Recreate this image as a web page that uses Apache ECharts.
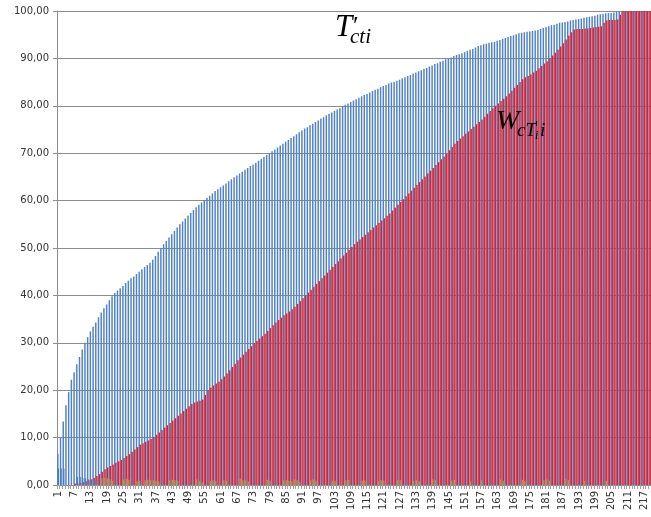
<!DOCTYPE html>
<html>
<head>
<meta charset="utf-8">
<script src="https://cdn.jsdelivr.net/npm/echarts@6/dist/echarts.min.js"></script>
<style>
html,body{margin:0;padding:0;background:#fff;}
#chart{width:651px;height:517px;}
</style>
</head>
<body>
<div id="chart"></div>
<script>
// ---- DATA ----
const categories = [];
for (let i = 1; i <= 219; i++) categories.push(String(i));

const yTicks = [0, 10, 20, 30, 40, 50, 60, 70, 80, 90, 100];

// T'cti (blue)
const tcti = [
  6.6, 10.0, 13.4, 16.8, 19.6, 22.2, 23.8, 25.5, 27.0, 28.6,
  30.0, 31.2, 32.4, 33.4, 34.3, 35.4, 36.4, 37.3, 38.1, 39.0,
  39.8, 40.5, 41.0, 41.5, 42.0, 42.6, 43.1, 43.6, 44.0, 44.5,
  45.0, 45.5, 46.0, 46.4, 46.9, 47.5, 48.3, 49.2, 50.0, 50.8,
  51.5, 52.2, 52.9, 53.6, 54.3, 55.0, 55.6, 56.2, 56.8, 57.4,
  58.0, 58.6, 59.1, 59.6, 60.1, 60.6, 61.0, 61.5, 62.0, 62.4,
  62.8, 63.2, 63.6, 64.1, 64.5, 64.9, 65.3, 65.7, 66.1, 66.5,
  66.9, 67.3, 67.6, 68.0, 68.4, 68.8, 69.2, 69.6, 70.0, 70.4,
  70.8, 71.2, 71.6, 72.0, 72.4, 72.8, 73.2, 73.6, 74.0, 74.4,
  74.8, 75.2, 75.5, 75.9, 76.2, 76.6, 76.9, 77.3, 77.6, 78.0,
  78.3, 78.6, 78.9, 79.2, 79.5, 79.8, 80.2, 80.5, 80.8, 81.1,
  81.4, 81.7, 82.0, 82.3, 82.5, 82.8, 83.1, 83.4, 83.6, 83.9,
  84.2, 84.4, 84.7, 84.9, 85.1, 85.3, 85.5, 85.8, 86.0, 86.3,
  86.5, 86.8, 87.0, 87.3, 87.5, 87.8, 88.0, 88.3, 88.5, 88.8,
  89.0, 89.3, 89.5, 89.8, 90.0, 90.2, 90.5, 90.7, 90.9, 91.1,
  91.3, 91.6, 91.8, 92.0, 92.3, 92.6, 92.8, 93.0, 93.1, 93.3,
  93.4, 93.5, 93.7, 93.9, 94.1, 94.3, 94.5, 94.7, 94.9, 95.1,
  95.3, 95.4, 95.5, 95.6, 95.7, 95.8, 95.9, 96.0, 96.2, 96.4,
  96.6, 96.8, 97.0, 97.1, 97.3, 97.5, 97.6, 97.7, 97.8, 98.0,
  98.1, 98.2, 98.3, 98.4, 98.6, 98.7, 98.8, 98.9, 99.0, 99.2,
  99.3, 99.4, 99.5, 99.6, 99.6, 99.7, 99.8, 99.9, 100, 100,
  100, 100, 100, 100, 100, 100, 100, 100, 100
];

// WcT'i (red)
const wcti = [
  0, 0, 0, 0, 0, 0, 0.3, 0.3, 0.4, 0.6,
  0.8, 1.0, 1.2, 1.5, 1.9, 2.3, 2.8, 3.3, 3.7, 4.0,
  4.3, 4.7, 5.0, 5.3, 5.7, 6.1, 6.5, 7.0, 7.5, 8.0,
  8.5, 8.8, 9.1, 9.4, 9.7, 10.1, 10.6, 11.1, 11.6, 12.1,
  12.6, 13.1, 13.6, 14.1, 14.6, 15.1, 15.6, 16.1, 16.6, 17.1,
  17.4, 17.6, 17.8, 18.0, 19.0, 20.0, 20.5, 21.0, 21.4, 21.8,
  22.3, 22.9, 23.5, 24.2, 24.9, 25.6, 26.3, 26.9, 27.5, 28.1,
  28.7, 29.3, 29.9, 30.4, 30.9, 31.4, 31.9, 32.5, 33.1, 33.7,
  34.3, 34.8, 35.3, 35.8, 36.2, 36.6, 37.1, 37.6, 38.2, 38.8,
  39.4, 40.0, 40.6, 41.2, 41.8, 42.4, 43.0, 43.6, 44.2, 44.8,
  45.4, 46.0, 46.6, 47.2, 47.8, 48.4, 49.0, 49.6, 50.2, 50.8,
  51.3, 51.8, 52.3, 52.8, 53.3, 53.8, 54.3, 54.8, 55.3, 55.8,
  56.3, 56.8, 57.3, 57.9, 58.5, 59.1, 59.7, 60.3, 60.9, 61.5,
  62.1, 62.7, 63.3, 63.9, 64.5, 65.1, 65.7, 66.3, 66.9, 67.5,
  68.1, 68.7, 69.3, 69.9, 70.6, 71.3, 72.0, 72.6, 73.1, 73.6,
  74.1, 74.6, 75.1, 75.6, 76.1, 76.6, 77.1, 77.7, 78.3, 78.9,
  79.5, 80.0, 80.5, 81.0, 81.5, 82.0, 82.6, 83.2, 83.8, 84.4,
  85.0, 85.6, 86.0, 86.3, 86.6, 87.0, 87.4, 87.9, 88.4, 88.9,
  89.4, 90.0, 90.6, 91.2, 91.8, 92.5, 93.2, 94.0, 94.8, 95.5,
  96.1, 96.2, 96.2, 96.2, 96.3, 96.3, 96.4, 96.5, 96.6, 96.7,
  96.8, 97.5, 98.0, 98.1, 98.1, 98.1, 98.2, 99.2, 100, 100,
  100, 100, 100, 100, 100, 100, 100, 100, 100
];

// small series near zero
const small = [
  3.5, 3.5, 3.5, 0, 0, 0, 0, 1.7, 1.7, 1.5,
  1.4, 1.2, 1.0, 0.9, 0.8, 0, 1.4, 1.5, 1.4, 1.2,
  0.9, 0, 0, 0, 1.2, 1.3, 1.1, 0, 0, 0.8,
  0.9, 0, 1.0, 1.1, 1.0, 1.0, 0.9, 0.8, 0, 0,
  0, 1.0, 1.1, 1.0, 0.9, 0, 0, 0, 0, 0,
  0, 1.2, 0.8, 0.6, 0, 0, 0.9, 1.0, 0.8, 0,
  0, 1.0, 0.9, 0, 0, 0, 0, 1.3, 1.0, 1.0,
  0.8, 0, 0, 0, 0, 0, 0, 1.1, 0.9, 0,
  0, 0, 0, 1.0, 1.0, 0.9, 0.8, 1.2, 1.0, 0.7,
  0, 0, 0, 1.0, 1.2, 0.9, 0, 0, 0, 0,
  0, 0.8, 0.9, 0, 0, 0, 1.0, 1.1, 0, 0,
  0, 0, 0.9, 1.0, 0, 0, 0, 0, 0.8, 1.0,
  0.9, 0, 0, 0, 0, 1.1, 1.0, 0, 0, 0,
  0, 0.9, 1.0, 0.8, 0, 0, 0, 0, 1.2, 1.0,
  0, 0, 0, 0, 0, 0.9, 1.1, 0, 0, 0,
  0, 0, 0.8, 0, 0, 0, 1.0, 0, 0, 0,
  0, 0, 0, 1.2, 0.9, 0, 0, 0, 0, 0,
  0, 1.1, 0.9, 0, 0, 0, 0, 0, 0, 1.0,
  1.2, 0.9, 0, 0, 0, 0, 0, 1.3, 1.0, 0,
  0, 0, 0, 0, 0.8, 0, 0, 0, 0, 0,
  0, 0, 0.9, 0, 0, 0, 0, 0, 0, 0,
  0, 0, 0, 0, 0, 0, 0, 0, 0
];

// ---- CHART ----
const chart = echarts.init(document.getElementById('chart'), null, {renderer: 'canvas'});
const fmt = v => v.toFixed(2).replace('.', ',');

const smallData = small.map((v, i) => ({
  value: v,
  itemStyle: {color: i < 16 ? '#4a7ebb' : '#b39448'}
}));

chart.setOption({
  animation: false,
  backgroundColor: '#ffffff',
  grid: {left: 57, right: 0, top: 11, bottom: 32, containLabel: false},
  xAxis: [{
    type: 'category',
    data: categories,
    boundaryGap: true,
    axisLine: {show: true, lineStyle: {color: '#8c8c8c', width: 1}},
    axisTick: {show: true, interval: 0, length: 4, lineStyle: {color: '#a0a0a0'}},
    axisLabel: {
      interval: 5, rotate: 90, margin: 6,
      fontFamily: 'DejaVu Sans', fontSize: 10, color: '#333'
    },
    splitLine: {show: false}
  }, {
    type: 'category',
    data: categories,
    show: false,
    position: 'bottom'
  }],
  yAxis: {
    type: 'value',
    min: 0, max: 100, interval: 10,
    axisLine: {show: true, lineStyle: {color: '#8c8c8c', width: 1}},
    axisTick: {show: true, length: 4, lineStyle: {color: '#8c8c8c'}},
    axisLabel: {
      formatter: fmt, margin: 8,
      fontFamily: 'DejaVu Sans', fontSize: 10, color: '#333'
    },
    splitLine: {show: true, lineStyle: {color: '#8c8c8c', width: 1}}
  },
  series: [
    {
      name: "T'cti", type: 'bar', xAxisIndex: 0,
      data: tcti,
      barCategoryGap: '6%', barGap: '-25%',
      itemStyle: {color: '#4f81c4'}
    },
    {
      name: "WcT'i", type: 'bar', xAxisIndex: 0,
      data: wcti,
      barCategoryGap: '6%', barGap: '-25%',
      itemStyle: {color: '#f01a22'}
    },
    {
      name: 'small', type: 'bar', xAxisIndex: 1,
      data: smallData,
      barWidth: 1.4,
      z: 3
    }
  ],
  graphic: [
    {type: 'text', z: 100, left: 335, top: 12, style: {text: 'T', font: 'italic 31px "Liberation Serif"', fill: '#000'}},
    {type: 'text', z: 100, left: 353, top: 14, style: {text: '′', font: '26px "Liberation Serif"', fill: '#000'}},
    {type: 'text', z: 100, left: 350, top: 27, style: {text: 'cti', font: 'italic 21px "Liberation Serif"', fill: '#000'}},
    {type: 'text', z: 100, left: 496, top: 108, style: {text: 'W', font: 'italic 28px "Liberation Serif"', fill: '#000'}},
    {type: 'text', z: 100, left: 517, top: 121, style: {text: 'cT', font: 'italic 19px "Liberation Serif"', fill: '#000'}},
    {type: 'text', z: 100, left: 535, top: 120, style: {text: '′', font: '14px "Liberation Serif"', fill: '#000'}},
    {type: 'text', z: 100, left: 535, top: 130, style: {text: 'i', font: 'italic 12px "Liberation Serif"', fill: '#000'}},
    {type: 'text', z: 100, left: 540, top: 121, style: {text: 'i', font: 'italic 19px "Liberation Serif"', fill: '#000'}}
  ]
});
</script>
</body>
</html>
